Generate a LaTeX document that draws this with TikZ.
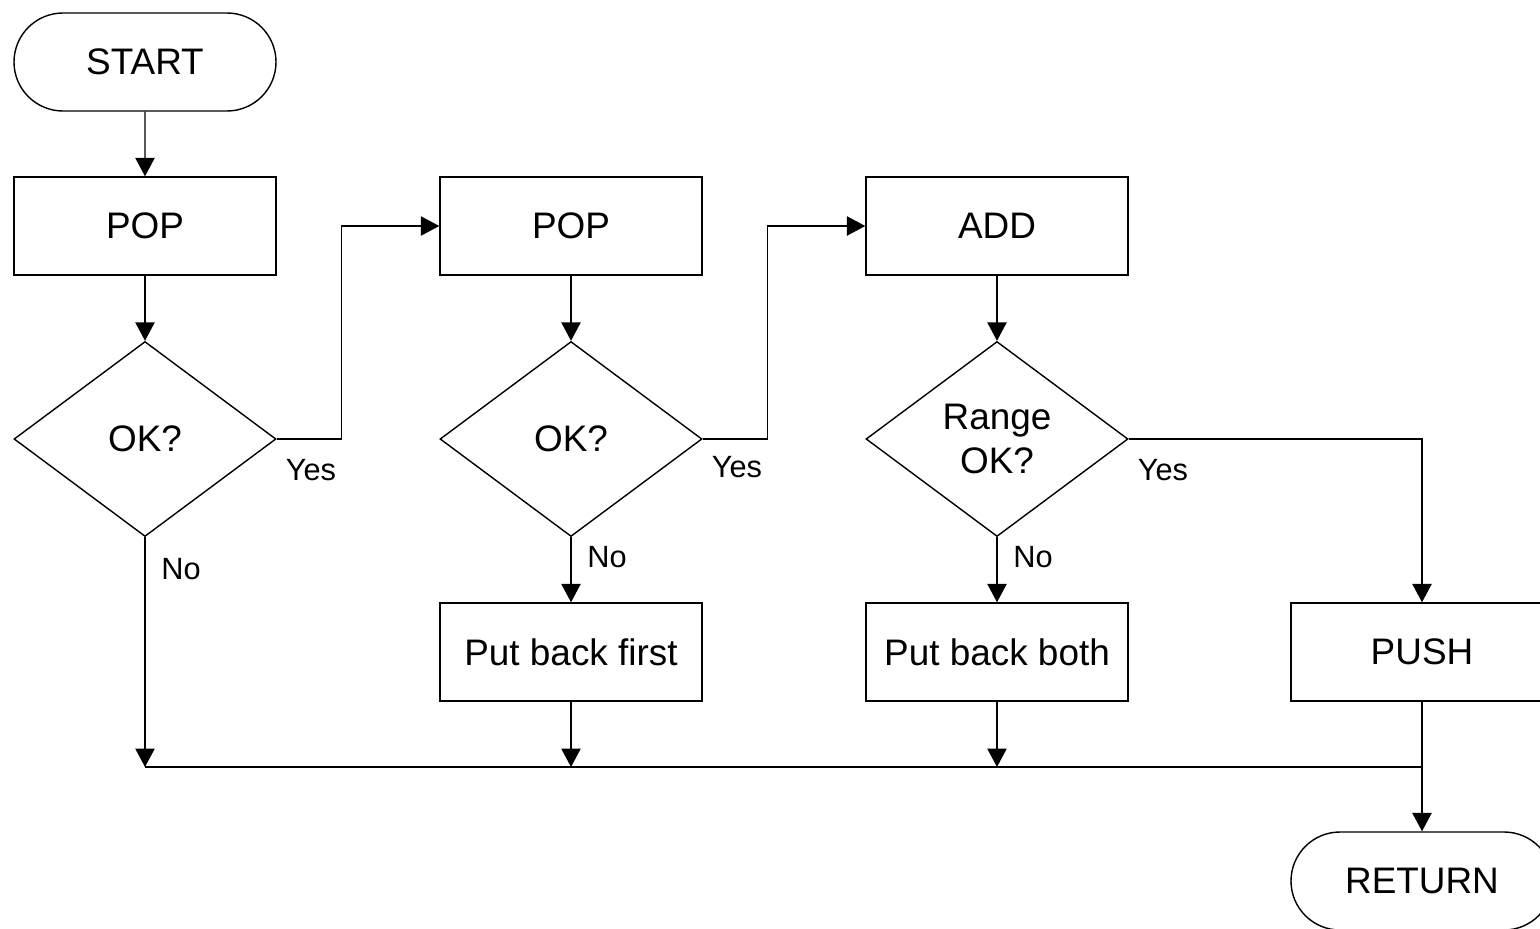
\documentclass[tikz,border=0pt]{standalone}
\usepackage{fontspec}
\setmainfont{Liberation Sans}
\usetikzlibrary{arrows.meta,shapes.geometric,shapes.misc}

\begin{document}
\begin{tikzpicture}[
  x=0.2mm, y=-0.2mm,
  font=\fontsize{21}{24.5}\selectfont,
  line width=0.8pt,
  term/.style={draw,rounded rectangle,minimum width=5.24cm,
               minimum height=1.96cm,inner sep=0pt},
  proc/.style={draw,rectangle,minimum width=5.24cm,
               minimum height=1.96cm,inner sep=0pt},
  test/.style={draw,diamond,aspect=1.34,minimum width=5.24cm,
               minimum height=3.9cm,inner sep=0pt,align=center},
  lbl/.style={font=\fontsize{17.5}{20}\selectfont},
  arr/.style={-{Triangle[length=10.5pt,width=11pt]}}
]
\path[use as bounding box,clip] (0,0) rectangle (1540,929);

\node[term] (start) at (145,62) {START};
\node[proc] (pop1) at (145,226) {POP};
\node[test] (ok1) at (145,439) {OK?};

\node[proc] (pop2) at (571,226) {POP};
\node[test] (ok2) at (571,439) {OK?};
\node[proc] (back1) at (571,652) {Put back first};

\node[proc] (add) at (997,226) {ADD};
\node[test] (ok3) at (997,439) {Range\\OK?};
\node[proc] (back2) at (997,652) {Put back both};

\node[proc] (push) at (1422,652) {PUSH};
\node[term] (ret) at (1422,881) {RETURN};

\coordinate (busL) at (145,767);
\coordinate (busR) at (1422,767);

% labels on the branches
\node[lbl] (yes1) at (311,470) {Yes};
\node[lbl] (no1) at (181,569) {No};
\node[lbl] (yes2) at (737,467) {Yes};
\node[lbl] (no2) at (607,557) {No};
\node[lbl] (yes3) at (1163,470) {Yes};
\node[lbl] (no3) at (1033,557) {No};

\draw[arr] (start) -- (pop1);
\draw[arr] (pop1) -- (ok1);
\draw[arr] (ok1.east) -- ++(65,0) |- (pop2.west);
\draw[arr] (pop2) -- (ok2);
\draw[arr] (ok2.east) -- ++(65,0) |- (add.west);
\draw[arr] (add) -- (ok3);
\draw[arr] (ok2) -- (back1);
\draw[arr] (ok3) -- (back2);
\draw[arr] (ok3.east) -| (push.north);

% merge line at the bottom
\draw[arr] (ok1.south) -- (busL);
\draw (busL) -- (busR);
\draw[arr] (back1.south) -- (back1.south |- busL);
\draw[arr] (back2.south) -- (back2.south |- busL);
\draw[arr] (push.south) -- (ret.north);
\end{tikzpicture}
\end{document}
